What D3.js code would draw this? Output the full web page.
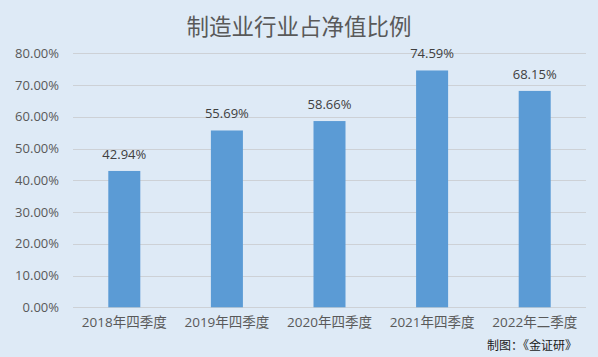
<!DOCTYPE html>
<html><head><meta charset="utf-8">
<script src="https://cdn.jsdelivr.net/npm/d3@7"></script>
<style>
html,body{margin:0;padding:0;background:#DEEAF6;}
svg{display:block;}
</style></head>
<body>
<svg id="c" width="598" height="357"></svg>
<script>
const title = "制造业行业占净值比例";
const categories = ["2018年四季度","2019年四季度","2020年四季度","2021年四季度","2022年二季度"];
const values = [42.94, 55.69, 58.66, 74.59, 68.15];
const yTicks = [0,10,20,30,40,50,60,70,80];
const source = "制图：《金证研》";

const W = 598, H = 357;
const m = {left:73, right:12, top:53.3, bottom:49.7};
const svg = d3.select("#c");
svg.append("rect").attr("width",W).attr("height",H).attr("fill","#DEEAF6");

const x = d3.scaleBand().domain(categories).range([m.left, W-m.right]).paddingInner(0.688).paddingOuter(0.344);
const y = d3.scaleLinear().domain([0,80]).range([H-m.bottom, m.top]);
const font = "'Open Sans','Noto Sans CJK SC',sans-serif";
const cjk = "'Noto Sans CJK SC',sans-serif";

// gridlines
svg.append("g").selectAll("line").data(yTicks).join("line")
  .attr("x1", m.left).attr("x2", W-m.right)
  .attr("y1", d=>Math.round(y(d))+0.5).attr("y2", d=>Math.round(y(d))+0.5)
  .attr("stroke","#CDD1D6").attr("stroke-width",1);

// y axis
const yAxis = d3.axisLeft(y).tickValues(yTicks).tickFormat(d=>d.toFixed(2)+"%").tickSize(0).tickPadding(14);
const gy = svg.append("g").attr("transform",`translate(${m.left},0)`).call(yAxis);
gy.select(".domain").remove();
gy.selectAll("text").attr("fill","#595959").style("font-family",font).style("font-size","13px");

// x axis
const xAxis = d3.axisBottom(x).tickSize(0).tickPadding(10);
const gx = svg.append("g").attr("transform",`translate(0,${H-m.bottom})`).call(xAxis);
gx.select(".domain").remove();
gx.selectAll("text").attr("fill","#595959").style("font-family",font).style("font-size","13.5px");

// bars
svg.append("g").selectAll("rect").data(values).join("rect")
  .attr("x",(d,i)=>x(categories[i])).attr("width",x.bandwidth())
  .attr("y",d=>y(d)).attr("height",d=>y(0)-y(d))
  .attr("fill","#5B9BD5");

// labels
svg.append("g").selectAll("text").data(values).join("text")
  .attr("x",(d,i)=>x(categories[i])+x.bandwidth()/2)
  .attr("y",d=>y(d)-12)
  .attr("text-anchor","middle").attr("fill","#404040")
  .style("font-family",font).style("font-size","13px")
  .text(d=>d.toFixed(2)+"%");

// title
svg.append("text").attr("x",299).attr("y",35).attr("text-anchor","middle")
  .attr("fill","#595959").style("font-family",cjk).style("font-size","22.5px")
  .text(title);

// source
svg.append("text").attr("x",577).attr("y",350).attr("text-anchor","end")
  .attr("fill","#1a1a1a").style("font-family",cjk).style("font-size","12px")
  .text(source);
</script>
</body></html>
